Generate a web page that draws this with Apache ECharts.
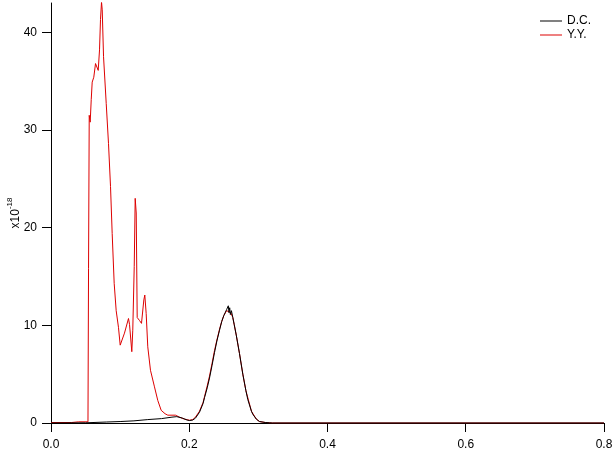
<!DOCTYPE html>
<html>
<head>
<meta charset="utf-8">
<script src="https://cdn.jsdelivr.net/npm/echarts@6/dist/echarts.min.js"></script>
<style>
html,body{margin:0;padding:0;background:#fff;}
#c{width:613px;height:458px;}
</style>
</head>
<body>
<div id="c"></div>
<script>
// x values (dimensionless), y values in units of 1e-18
const xTicks = [0, 0.2, 0.4, 0.6, 0.8];
const yTicks = [0, 10, 20, 30, 40];

const dcX = [0, 0.05, 0.08, 0.1, 0.12, 0.14, 0.16, 0.175, 0.182, 0.19, 0.197, 0.2004, 0.205, 0.209, 0.2148, 0.22, 0.2221, 0.226, 0.2293, 0.233, 0.2365, 0.24, 0.2438, 0.247, 0.25, 0.252, 0.254, 0.2555, 0.2565, 0.2575, 0.2585, 0.2595, 0.261, 0.263, 0.265, 0.268, 0.2727, 0.2775, 0.282, 0.2847, 0.29, 0.2919, 0.297, 0.3016, 0.31, 0.3161, 0.32, 0.8];
const dcY = [0, 0.02, 0.1, 0.15, 0.22, 0.35, 0.45, 0.6, 0.65, 0.5, 0.3, 0.25, 0.3, 0.5, 1.1, 2.0, 2.6, 3.6, 4.6, 5.9, 7.2, 8.4, 9.5, 10.4, 11.0, 11.3, 11.6, 11.4, 12.0, 11.3, 11.8, 11.1, 11.5, 10.8, 10.1, 9.0, 7.1, 5.0, 3.3, 2.4, 1.2, 0.9, 0.4, 0.15, 0.05, 0.02, 0, 0];

const yyX = [0, 0.03, 0.04, 0.0535, 0.0543, 0.0553, 0.0567, 0.0582, 0.0596, 0.0619, 0.0644, 0.0658, 0.0683, 0.0702, 0.0716, 0.0731, 0.0741, 0.076, 0.0799, 0.0832, 0.0861, 0.0885, 0.0914, 0.0943, 0.0976, 0.1001, 0.1063, 0.1121, 0.1136, 0.1169, 0.1183, 0.1204, 0.1218, 0.1233, 0.1247, 0.128, 0.1309, 0.1343, 0.1357, 0.1377, 0.14, 0.1439, 0.1497, 0.1545, 0.1594, 0.165, 0.169, 0.1801, 0.1859, 0.193, 0.2004, 0.205, 0.209, 0.2148, 0.22, 0.2221, 0.226, 0.2293, 0.233, 0.2365, 0.24, 0.2438, 0.247, 0.25, 0.254, 0.2565, 0.26, 0.263, 0.268, 0.2727, 0.2775, 0.282, 0.29, 0.297, 0.3016, 0.31, 0.32, 0.8];
const yyY = [0.05, 0.05, 0.12, 0.12, 15.8, 31.5, 30.8, 33.1, 34.9, 35.4, 36.8, 36.6, 36.1, 38.2, 41.3, 43.1, 42.3, 37.5, 32.7, 28.6, 24.2, 19.4, 14.3, 11.5, 9.8, 7.97, 9.2, 10.7, 10.1, 7.3, 9.5, 16.0, 23.0, 21.5, 10.8, 10.5, 10.2, 12.6, 13.1, 11.2, 7.8, 5.4, 3.7, 2.3, 1.3, 0.95, 0.8, 0.8, 0.6, 0.4, 0.28, 0.35, 0.6, 1.2, 2.1, 2.7, 3.8, 4.8, 6.1, 7.4, 8.5, 9.6, 10.4, 11.0, 11.5, 11.6, 11.3, 10.8, 9.0, 7.1, 5.0, 3.3, 1.2, 0.4, 0.15, 0.05, 0, 0];

const dcData = dcX.map((x, i) => [x, dcY[i]]);
const yyData = yyX.map((x, i) => [x, yyY[i]]);

const chart = echarts.init(document.getElementById('c'));
const font = 'Arial, "Liberation Sans", sans-serif';
const lineIcon = 'path://M0,0L22,0L22,1L0,1Z';
chart.setOption({
  animation: false,
  backgroundColor: '#ffffff',
  grid: {left: 51, right: 9, top: 3, bottom: 35, containLabel: false, outerBoundsMode: 'none'},
  legend: {
    orient: 'vertical', left: 540, top: 15, padding: 0, itemGap: 2,
    itemWidth: 22, itemHeight: 14,
    data: [{name: 'D.C.', icon: lineIcon}, {name: 'Y.Y.', icon: lineIcon}],
    textStyle: {fontFamily: font, fontSize: 12, color: '#000'}
  },
  xAxis: {
    type: 'value', min: 0, max: 0.8, interval: 0.2,
    splitLine: {show: false},
    axisLine: {onZero: false, lineStyle: {color: '#000', width: 1}},
    axisTick: {show: true, inside: false, length: 9, lineStyle: {color: '#000'}},
    axisLabel: {margin: 16, fontFamily: font, fontSize: 12, color: '#000',
      formatter: v => v.toFixed(1)}
  },
  yAxis: {
    type: 'value', min: 0, max: 43,
    splitLine: {show: false},
    axisLine: {show: true, lineStyle: {color: '#000', width: 1}},
    axisTick: {show: true, inside: false, length: 9, customValues: yTicks, lineStyle: {color: '#000'}},
    axisLabel: {margin: 14, fontFamily: font, fontSize: 12, color: '#000', customValues: yTicks},
    name: '{a|x10}{b|-18}',
    nameLocation: 'middle', nameRotate: 90, nameGap: 29, nameMoveOverlap: false,
    nameTextStyle: {
      fontFamily: font, color: '#000',
      rich: {
        a: {fontFamily: font, fontSize: 12, color: '#000', lineHeight: 16, verticalAlign: 'bottom'},
        b: {fontFamily: font, fontSize: 8, color: '#000', lineHeight: 16, verticalAlign: 'top'}
      }
    }
  },
  series: [
    {name: 'Y.Y.', type: 'line', data: yyData, symbol: 'none', showSymbol: false,
     lineStyle: {color: '#dd0000', width: 1}, itemStyle: {color: '#dd0000'}},
    {name: 'D.C.', type: 'line', data: dcData, symbol: 'none', showSymbol: false,
     lineStyle: {color: '#000000', width: 1}, itemStyle: {color: '#000000'}}
  ]
});
</script>
</body>
</html>
